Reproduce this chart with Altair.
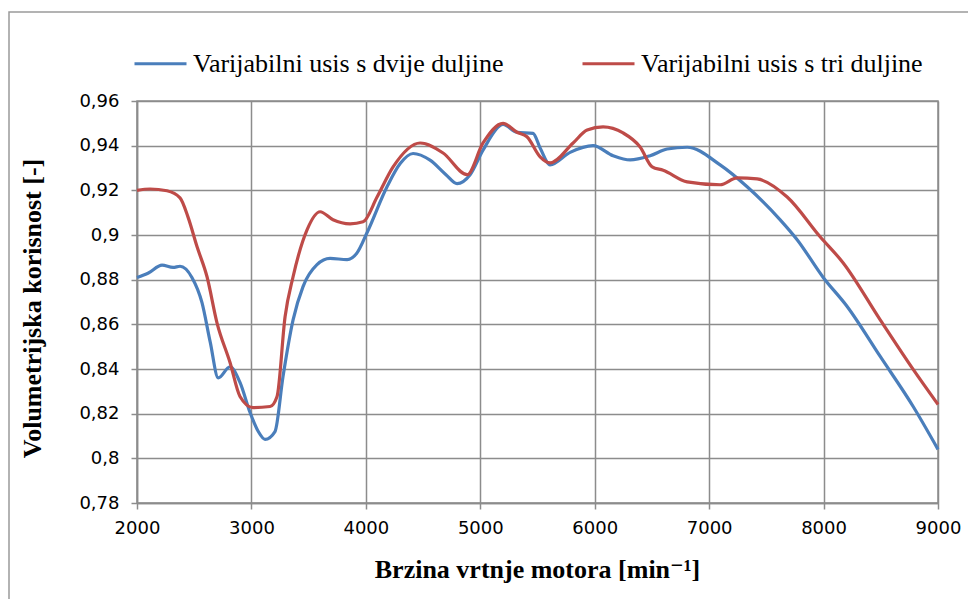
import altair as alt
import pandas as pd

# --- data ---
rpm_two = [2000, 2100, 2219, 2315, 2376, 2480, 2568, 2640, 2710, 2813, 2900, 2988, 3060, 3119, 3206,
           3276, 3364, 3451, 3573, 3687, 3836, 3923, 4010, 4185, 4300, 4413, 4561, 4700, 4797, 4911,
           5024, 5199, 5321, 5461, 5523, 5610, 5785, 5986, 6161, 6310, 6484, 6633, 6808, 7096, 7332,
           7621, 7769, 7997, 8206, 8495, 8783, 9000]
eff_two = [0.881, 0.883, 0.8865, 0.8855, 0.886, 0.881, 0.8697, 0.852, 0.836, 0.841, 0.834, 0.8205, 0.812,
           0.8085, 0.812, 0.8366, 0.862, 0.8769, 0.8867, 0.8895, 0.889, 0.892, 0.901, 0.9216, 0.932,
           0.9365, 0.9335, 0.927, 0.923, 0.927, 0.938, 0.9495, 0.946, 0.9455, 0.939, 0.9314, 0.937,
           0.940, 0.9355, 0.9336, 0.9355, 0.9385, 0.9393, 0.9314, 0.9216, 0.9068, 0.8979, 0.881, 0.868,
           0.8456, 0.8232, 0.804]

rpm_three = [2000, 2114, 2262, 2376, 2446, 2525, 2612, 2699, 2813, 2900, 3014, 3163, 3224, 3294, 3364,
             3486, 3600, 3713, 3862, 3976, 4098, 4238, 4474, 4675, 4885, 5024, 5199, 5321, 5408, 5523,
             5610, 5811, 5934, 6073, 6248, 6397, 6502, 6598, 6808, 7096, 7245, 7420, 7682, 7970, 8170,
             8495, 8783, 9000]
eff_three = [0.920, 0.9206, 0.9198, 0.9166, 0.908, 0.8947, 0.8813, 0.8607, 0.8429, 0.8277, 0.8227, 0.8232,
             0.8277, 0.8634, 0.8813, 0.9023, 0.9104, 0.9068, 0.905, 0.9059, 0.917, 0.9305, 0.9412, 0.9367,
             0.927, 0.9412, 0.950, 0.946, 0.944, 0.935, 0.9323, 0.9412, 0.947, 0.9484, 0.9457, 0.9394,
             0.9305, 0.929, 0.9238, 0.9225, 0.9256, 0.9251, 0.917, 0.8992, 0.8876, 0.862, 0.8398, 0.8241]

series_names = ["Varijabilni usis s dvije duljine", "Varijabilni usis s tri duljine"]
series_colors = ["#4a7ebb", "#be4b48"]
x_ticks = [2000, 3000, 4000, 5000, 6000, 7000, 8000, 9000]
y_ticks = [0.78, 0.80, 0.82, 0.84, 0.86, 0.88, 0.90, 0.92, 0.94, 0.96]

df = pd.concat([
    pd.DataFrame({"rpm": rpm_two, "eff": eff_two, "serija": series_names[0], "ord": 0}),
    pd.DataFrame({"rpm": rpm_three, "eff": eff_three, "serija": series_names[1], "ord": 1}),
])

GRID = "#8c8c8c"
SERIF = "'Liberation Serif', 'Times New Roman', 'DejaVu Serif', serif"

lines = alt.Chart(df).mark_line(strokeWidth=3.2, interpolate="monotone").encode(
    x=alt.X("rpm:Q",
            scale=alt.Scale(domain=[2000, 9000], nice=False, zero=False),
            axis=alt.Axis(values=x_ticks, format="d", labelFlush=False,
                          title="Brzina vrtnje motora [min⁻¹]",
                          titleX=400, titleY=74, titleAlign="center", titleBaseline="alphabetic",
                          titleFont=SERIF, titleFontSize=26, titleFontWeight="bold", titleColor="#000000",
                          labelFont="DejaVu Sans", labelFontSize=18, labelColor="#000000",
                          labelPadding=10, tickSize=6, tickColor=GRID, tickWidth=1.5,
                          domainColor=GRID, domainWidth=1.5,
                          gridColor=GRID, gridWidth=1.5)),
    y=alt.Y("eff:Q",
            scale=alt.Scale(domain=[0.78, 0.96], nice=False, zero=False),
            axis=alt.Axis(values=y_ticks, labelFlush=False,
                          labelExpr="replace(format(datum.value, '.2~f'), '.', ',')",
                          title="Volumetrijska korisnost [-]",
                          titleX=-105, titleY=207, titleAngle=270, titleAlign="center",
                          titleBaseline="middle",
                          titleFont=SERIF, titleFontSize=26, titleFontWeight="bold", titleColor="#000000",
                          labelFont="DejaVu Sans", labelFontSize=18, labelColor="#000000",
                          labelPadding=12, tickSize=6, tickColor=GRID, tickWidth=1.5,
                          domainColor=GRID, domainWidth=1.5,
                          gridColor=GRID, gridWidth=1.5)),
    color=alt.Color("serija:N",
                    scale=alt.Scale(domain=series_names, range=series_colors),
                    legend=alt.Legend(orient="none", legendX=-4, legendY=-65, direction="horizontal",
                                      title=None, symbolType="stroke", symbolSize=2704,
                                      symbolStrokeWidth=3, labelFont=SERIF, labelFontSize=26,
                                      labelColor="#000000", labelLimit=600, labelOffset=5,
                                      columnPadding=72, padding=0)),
    order="ord:Q",
)

frame = alt.Chart(alt.Data(values=[{}])).mark_rect(fill=None, stroke="#9a9a9a", strokeWidth=1.5).encode(
    x=alt.value(-128), x2=alt.value(900), y=alt.value(-89), y2=alt.value(560)
)

chart = alt.layer(frame, lines).properties(
    width=801, height=402,
    autosize=alt.AutoSizeParams(type="none"),
    padding={"left": 129, "top": 93, "right": 30, "bottom": 96},
    background="white",
).configure_view(stroke=GRID, strokeWidth=1.5).configure_legend(
    labelFont=SERIF, labelFontSize=26, labelColor="#000000", labelLimit=600
)

chart.save("out.html", embed_options={"renderer": "svg", "actions": False})
